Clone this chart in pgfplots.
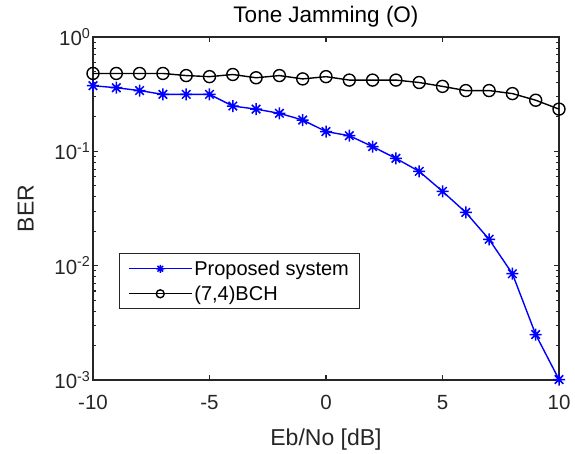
\documentclass[border=0pt]{standalone}
\usepackage{fontspec}
\setmainfont{Liberation Sans}
\usepackage{pgfplots}
\pgfplotsset{compat=1.18}
\definecolor{axgray}{HTML}{262626}
% eight-armed star like MATLAB's '*'
\pgfdeclareplotmark{ast8}{%
  \pgfpathmoveto{\pgfqpoint{-\pgfplotmarksize}{0pt}}\pgfpathlineto{\pgfqpoint{\pgfplotmarksize}{0pt}}%
  \pgfpathmoveto{\pgfqpoint{0pt}{-\pgfplotmarksize}}\pgfpathlineto{\pgfqpoint{0pt}{\pgfplotmarksize}}%
  \pgfpathmoveto{\pgfqpoint{-.707\pgfplotmarksize}{-.707\pgfplotmarksize}}\pgfpathlineto{\pgfqpoint{.707\pgfplotmarksize}{.707\pgfplotmarksize}}%
  \pgfpathmoveto{\pgfqpoint{-.707\pgfplotmarksize}{.707\pgfplotmarksize}}\pgfpathlineto{\pgfqpoint{.707\pgfplotmarksize}{-.707\pgfplotmarksize}}%
  \pgfusepathqstroke}
\begin{document}
\begin{tikzpicture}[x=1pt,y=1pt]
\begin{axis}[
    scale only axis,
    width=466pt, height=343pt,
    ymode=log,
    xmin=-10, xmax=10,
    ymin=1e-3, ymax=1,
    xtick={-10,-5,0,5,10},
    ytick={1e-3,1e-2,1e-1,1},
    yticklabels={10\textsuperscript{-3},10\textsuperscript{-2},10\textsuperscript{-1},10\textsuperscript{0}},
    /pgf/number format/assume math mode=true,
    tick align=inside,
    major tick length=5.5pt,
    minor tick length=3pt,
    axis line style={axgray, line width=1.5pt},
    every tick/.style={axgray, line width=1.1pt},
    tick label style={font=\fontsize{20.5}{20.5}\selectfont, text=axgray},
    xticklabel style={yshift=-12pt},
    yticklabel style={xshift=1pt},
    title={Tone Jamming (O)},
    title style={font=\fontsize{22.5}{22.5}\selectfont, yshift=0pt},
    xlabel={Eb/No [dB]},
    ylabel={BER},
    label style={font=\fontsize{23}{23}\selectfont, text=axgray},
    xlabel style={yshift=-12pt},
    ylabel style={yshift=14pt},
    legend style={at={(0.055,0.206)}, anchor=south west, draw=axgray, line width=1.1pt,
        font=\fontsize{20}{20}\selectfont, inner xsep=9pt, inner ysep=5pt, row sep=5pt},
    legend cell align=left,
    legend image code/.code={\draw[mark repeat=2,mark phase=2,mark size=4pt,line width=1.2pt]
        plot coordinates {(0pt,0pt) (31.5pt,0pt) (63pt,0pt)};},
    clip=false,
]
\addplot[blue, line width=1.4pt, mark=ast8, mark size=6pt, mark options={line width=1.5pt}] coordinates {
(-10,0.375) (-9,0.36) (-8,0.34) (-7,0.315) (-6,0.315) (-5,0.315) (-4,0.249) (-3,0.234)
(-2,0.215) (-1,0.188) (0,0.149) (1,0.137) (2,0.110) (3,0.0868) (4,0.0668) (5,0.0447)
(6,0.0292) (7,0.0170) (8,0.0085) (9,0.0025) (10,0.00101)};
\addlegendentry{Proposed system}
\addplot[black, line width=1.4pt, mark=o, mark size=6pt, mark options={line width=1.4pt}] coordinates {
(-10,0.48) (-9,0.48) (-8,0.48) (-7,0.48) (-6,0.46) (-5,0.45) (-4,0.47) (-3,0.44)
(-2,0.46) (-1,0.43) (0,0.45) (1,0.42) (2,0.42) (3,0.42) (4,0.40) (5,0.37)
(6,0.34) (7,0.34) (8,0.32) (9,0.28) (10,0.234)};
\addlegendentry{(7,4)BCH}
\end{axis}
\pgfresetboundingbox
\path[use as bounding box] (-93pt,-73pt) rectangle (482pt,380pt);
\end{tikzpicture}
\end{document}
